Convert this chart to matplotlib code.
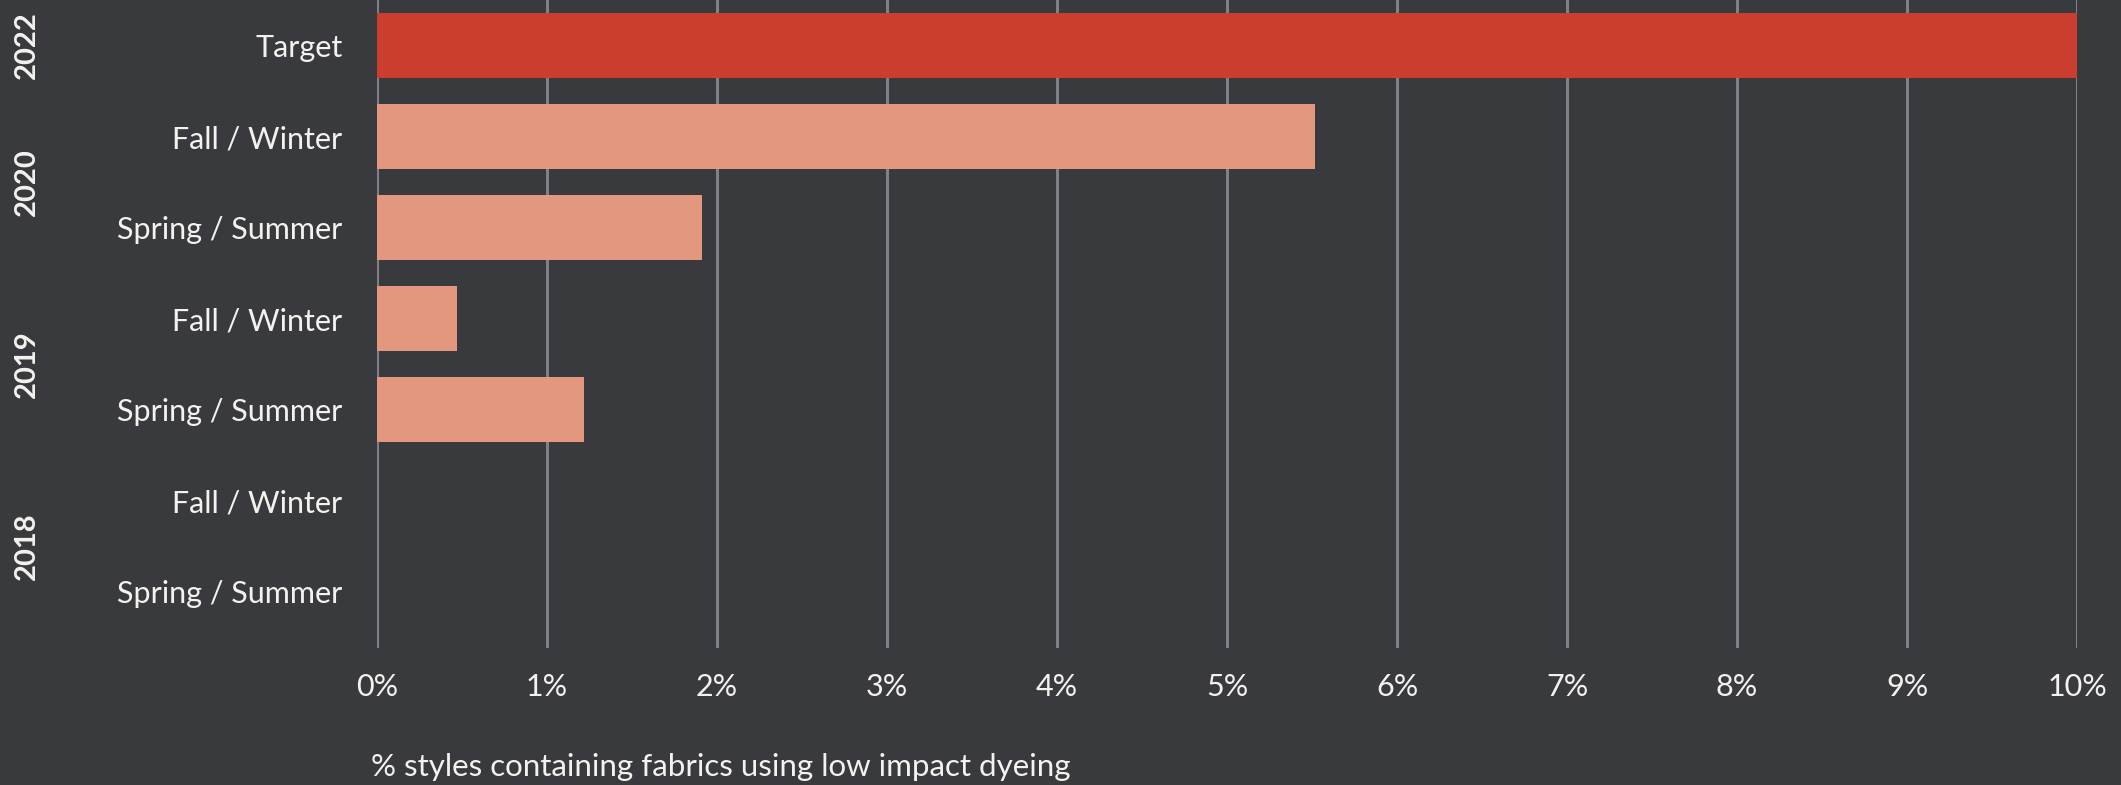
import matplotlib
matplotlib.use("Agg")
import matplotlib.pyplot as plt
import matplotlib.transforms as mtransforms

# data (top to bottom)
seasons = ["Target", "Fall / Winter", "Spring / Summer", "Fall / Winter",
           "Spring / Summer", "Fall / Winter", "Spring / Summer"]
years = ["2022", "2020", "2020", "2019", "2019", "2018", "2018"]
values = [10.0, 5.52, 1.91, 0.47, 1.22, 0.0, 0.0]
xticks = [0, 1, 2, 3, 4, 5, 6, 7, 8, 9, 10]
xlabel = "% styles containing fabrics using low impact dyeing"

bg = "#393a3e"
red = "#ca3d2f"
salmon = "#e2977e"
grid_col = "#808186"
txt = "#f4f2ef"

plt.rcParams["font.family"] = ["Lato", "DejaVu Sans"]

fig = plt.figure(figsize=(21.21, 7.85), dpi=100, facecolor=bg)
ax = fig.add_axes([377 / 2121, 1 - 648 / 785, 1700 / 2121, 648 / 785])
ax.set_facecolor(bg)

ypos = list(range(len(seasons)))
colors = [red if s == "Target" else salmon for s in seasons]
ax.barh(ypos, values, height=0.71, color=colors, zorder=3)

ax.set_xlim(0, 10)
ax.set_ylim(6.62, -0.5)
ax.set_xticks(xticks)
ax.set_xticklabels([f"{t}%" for t in xticks], color=txt, fontsize=22)
ax.set_yticks(ypos)
ax.set_yticklabels(seasons, color=txt, fontsize=22)
ax.tick_params(axis="x", length=0, pad=18)
ax.tick_params(axis="y", length=0, pad=25)
ax.grid(axis="x", color=grid_col, linewidth=2.2, zorder=0)
ax.grid(axis="y", visible=False)
for sp in ax.spines.values():
    sp.set_visible(False)

# year group labels
trans = mtransforms.blended_transform_factory(fig.transFigure, ax.transData)
done = []
for y in years:
    if y in done:
        continue
    done.append(y)
    idx = [i for i, v in enumerate(years) if v == y]
    ax.text(27 / 2121, sum(idx) / len(idx), y, transform=trans, rotation=90,
            ha="center", va="center", color=txt, fontsize=21, fontweight="bold")

fig.text(371 / 2121, 1 - 767 / 785, xlabel, color=txt, fontsize=22.5,
         ha="left", va="center")

fig.savefig("out.png", dpi=100, facecolor=bg)
